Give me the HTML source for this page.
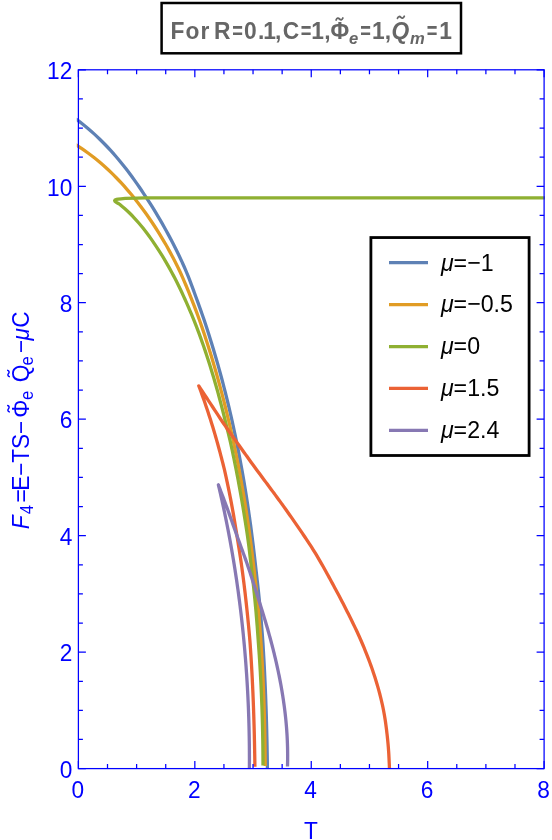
<!DOCTYPE html>
<html><head><meta charset="utf-8"><title>F4 vs T</title>
<style>
html,body{margin:0;padding:0;background:#ffffff;}
body{width:552px;height:840px;overflow:hidden;font-family:"Liberation Sans",sans-serif;}
svg{display:block;will-change:transform;opacity:0.999;font-kerning:none;}
</style></head><body>
<svg width="552" height="840" viewBox="0 0 552 840">
<rect x="0" y="0" width="552" height="840" fill="#ffffff"/>
<defs><clipPath id="cp"><rect x="76.8" y="68.8" width="468.3" height="700.4"/></clipPath></defs>
<g fill="none" stroke-width="3.30" stroke-linejoin="round" stroke-linecap="butt" clip-path="url(#cp)">
<path d="M75.57 118.70C76.62 119.50 79.80 121.84 81.87 123.46C83.93 125.09 85.96 126.75 87.95 128.44C89.95 130.12 91.91 131.85 93.84 133.60C95.77 135.35 97.66 137.14 99.53 138.95C101.40 140.77 103.23 142.61 105.04 144.48C106.84 146.35 108.62 148.24 110.37 150.16C112.12 152.08 113.84 154.03 115.54 156.00C117.24 157.97 118.91 159.96 120.56 161.98C122.21 163.99 123.83 166.03 125.43 168.08C127.03 170.13 128.61 172.21 130.16 174.30C131.72 176.39 133.26 178.50 134.77 180.62C136.29 182.75 137.79 184.89 139.27 187.04C140.75 189.19 142.21 191.36 143.66 193.54C145.10 195.72 146.53 197.91 147.95 200.11C149.36 202.31 150.76 204.52 152.14 206.74C153.53 208.96 154.89 211.20 156.25 213.44C157.60 215.68 158.93 217.93 160.25 220.19C161.57 222.45 162.87 224.72 164.15 227.00C165.43 229.28 166.70 231.57 167.94 233.87C169.19 236.17 170.42 238.48 171.63 240.80C172.84 243.12 174.03 245.44 175.20 247.78C176.37 250.11 177.52 252.46 178.65 254.81C179.78 257.16 180.89 259.53 181.99 261.90C183.08 264.27 184.18 266.64 185.21 269.03C186.23 271.41 187.19 273.81 188.14 276.21C189.10 278.61 190.02 281.02 190.93 283.43C191.85 285.84 192.74 288.26 193.64 290.69C194.53 293.12 195.41 295.55 196.30 297.99C197.18 300.43 198.08 302.88 198.96 305.33C199.84 307.78 200.73 310.23 201.59 312.69C202.45 315.15 203.30 317.62 204.14 320.09C204.97 322.56 205.80 325.03 206.61 327.51C207.42 329.99 208.22 332.47 209.01 334.95C209.80 337.44 210.58 339.93 211.34 342.42C212.11 344.91 212.87 347.41 213.61 349.91C214.36 352.40 215.10 354.90 215.82 357.41C216.55 359.91 217.27 362.41 217.97 364.92C218.68 367.43 219.38 369.94 220.06 372.46C220.75 374.97 221.43 377.49 222.10 380.01C222.76 382.52 223.42 385.05 224.07 387.57C224.72 390.09 225.36 392.62 225.99 395.15C226.62 397.68 227.24 400.21 227.85 402.74C228.46 405.28 229.07 407.81 229.66 410.35C230.25 412.89 230.84 415.43 231.41 417.97C231.99 420.51 232.55 423.06 233.11 425.60C233.67 428.15 234.22 430.70 234.76 433.25C235.30 435.80 235.83 438.35 236.35 440.91C236.87 443.46 237.39 446.02 237.89 448.58C238.40 451.14 238.90 453.70 239.39 456.26C239.87 458.82 240.36 461.39 240.83 463.95C241.30 466.52 241.76 469.09 242.22 471.66C242.68 474.23 243.13 476.80 243.57 479.37C244.01 481.94 244.44 484.52 244.86 487.09C245.29 489.67 245.71 492.25 246.12 494.83C246.52 497.40 246.93 499.98 247.32 502.57C247.72 505.15 248.10 507.73 248.48 510.32C248.86 512.90 249.23 515.49 249.60 518.07C249.96 520.66 250.32 523.25 250.67 525.84C251.02 528.43 251.36 531.02 251.70 533.61C252.04 536.20 252.36 538.80 252.69 541.39C253.01 543.98 253.32 546.58 253.63 549.17C253.94 551.77 254.24 554.37 254.54 556.97C254.84 559.56 255.12 562.16 255.42 564.76C255.71 567.36 256.01 569.96 256.31 572.56C256.61 575.16 256.91 577.77 257.20 580.37C257.49 582.97 257.78 585.58 258.07 588.18C258.35 590.78 258.63 593.39 258.89 595.99C259.16 598.60 259.41 601.20 259.66 603.81C259.91 606.42 260.15 609.02 260.38 611.63C260.62 614.24 260.85 616.85 261.07 619.45C261.30 622.06 261.52 624.67 261.73 627.28C261.94 629.89 262.15 632.50 262.35 635.11C262.54 637.71 262.73 640.32 262.91 642.93C263.08 645.54 263.23 648.15 263.39 650.76C263.54 653.37 263.69 655.98 263.84 658.59C263.98 661.20 264.13 663.81 264.26 666.42C264.40 669.03 264.53 671.64 264.65 674.25C264.78 676.86 264.90 679.47 265.02 682.07C265.14 684.68 265.25 687.29 265.36 689.90C265.46 692.51 265.57 695.12 265.67 697.73C265.77 700.33 265.86 702.94 265.95 705.55C266.04 708.15 266.13 710.76 266.21 713.37C266.30 715.97 266.37 718.58 266.45 721.18C266.52 723.79 266.60 726.39 266.66 729.00C266.73 731.60 266.79 734.20 266.85 736.81C266.91 739.41 266.97 742.01 267.02 744.61C267.08 747.21 267.13 749.81 267.17 752.41C267.22 755.01 267.26 757.61 267.30 760.21C267.34 762.80 267.39 766.70 267.41 768.00" stroke="#5E81B5"/>
<path d="M75.49 144.44C76.55 145.13 79.75 147.17 81.83 148.59C83.92 150.01 85.98 151.47 88.00 152.97C90.03 154.46 92.03 155.99 94.00 157.55C95.97 159.11 97.91 160.70 99.82 162.33C101.74 163.95 103.62 165.61 105.48 167.29C107.34 168.98 109.17 170.69 110.97 172.43C112.78 174.18 114.56 175.95 116.31 177.74C118.06 179.54 119.79 181.36 121.49 183.21C123.19 185.06 124.87 186.93 126.52 188.82C128.18 190.72 129.80 192.63 131.41 194.57C133.01 196.51 134.59 198.47 136.15 200.44C137.71 202.42 139.25 204.42 140.76 206.43C142.27 208.45 143.76 210.48 145.23 212.52C146.70 214.57 148.14 216.64 149.57 218.71C150.99 220.79 152.40 222.88 153.78 224.99C155.16 227.09 156.53 229.21 157.87 231.35C159.21 233.48 160.52 235.63 161.82 237.78C163.12 239.94 164.39 242.11 165.65 244.30C166.90 246.48 168.14 248.68 169.35 250.88C170.56 253.09 171.75 255.31 172.92 257.53C174.09 259.76 175.24 262.00 176.37 264.25C177.49 266.50 178.61 268.76 179.67 271.02C180.74 273.29 181.75 275.57 182.76 277.85C183.76 280.13 184.75 282.43 185.72 284.73C186.69 287.03 187.64 289.34 188.58 291.66C189.52 293.97 190.44 296.30 191.36 298.63C192.28 300.96 193.20 303.30 194.10 305.64C195.00 307.99 195.89 310.34 196.77 312.69C197.64 315.05 198.50 317.41 199.35 319.78C200.19 322.15 201.02 324.52 201.84 326.90C202.66 329.28 203.47 331.66 204.26 334.04C205.06 336.43 205.84 338.82 206.62 341.21C207.39 343.61 208.15 346.00 208.90 348.40C209.66 350.80 210.40 353.21 211.13 355.61C211.86 358.02 212.59 360.43 213.30 362.84C214.02 365.25 214.73 367.66 215.42 370.08C216.12 372.49 216.81 374.91 217.49 377.33C218.17 379.75 218.84 382.18 219.50 384.60C220.16 387.03 220.81 389.46 221.46 391.89C222.10 394.32 222.74 396.75 223.36 399.18C223.99 401.62 224.61 404.06 225.22 406.49C225.83 408.93 226.43 411.38 227.02 413.82C227.61 416.26 228.20 418.71 228.77 421.16C229.35 423.60 229.92 426.06 230.48 428.51C231.03 430.96 231.59 433.41 232.13 435.87C232.67 438.32 233.21 440.78 233.73 443.24C234.26 445.70 234.78 448.16 235.29 450.63C235.80 453.09 236.30 455.56 236.80 458.02C237.29 460.49 237.78 462.96 238.26 465.43C238.74 467.90 239.21 470.37 239.67 472.85C240.14 475.32 240.59 477.80 241.04 480.27C241.49 482.75 241.93 485.23 242.37 487.71C242.80 490.19 243.23 492.67 243.64 495.15C244.06 497.64 244.48 500.12 244.88 502.61C245.28 505.09 245.68 507.58 246.07 510.07C246.46 512.56 246.84 515.05 247.22 517.54C247.59 520.03 247.96 522.52 248.32 525.02C248.69 527.51 249.04 530.00 249.39 532.50C249.74 535.00 250.08 537.49 250.41 539.99C250.74 542.49 251.07 544.99 251.39 547.49C251.71 549.99 252.03 552.49 252.33 554.99C252.64 557.49 252.94 560.00 253.24 562.50C253.54 565.00 253.83 567.51 254.13 570.02C254.42 572.52 254.71 575.03 255.00 577.53C255.29 580.04 255.57 582.55 255.85 585.06C256.13 587.57 256.40 590.08 256.66 592.59C256.92 595.10 257.18 597.61 257.42 600.12C257.67 602.63 257.91 605.14 258.14 607.65C258.37 610.17 258.60 612.68 258.82 615.19C259.04 617.70 259.26 620.22 259.47 622.73C259.68 625.25 259.88 627.76 260.07 630.27C260.27 632.79 260.47 635.30 260.65 637.82C260.83 640.33 261.00 642.85 261.16 645.37C261.33 647.88 261.48 650.40 261.64 652.91C261.79 655.43 261.93 657.94 262.08 660.46C262.22 662.98 262.35 665.49 262.48 668.01C262.62 670.52 262.74 673.04 262.86 675.56C262.98 678.07 263.10 680.59 263.21 683.10C263.32 685.62 263.43 688.14 263.53 690.65C263.63 693.17 263.73 695.68 263.82 698.20C263.91 700.71 264.00 703.23 264.08 705.74C264.16 708.26 264.24 710.77 264.31 713.28C264.38 715.80 264.45 718.31 264.52 720.82C264.58 723.34 264.64 725.85 264.70 728.36C264.75 730.87 264.80 733.39 264.85 735.90C264.89 738.41 264.94 740.92 264.97 743.43C265.01 745.94 265.05 748.45 265.08 750.95C265.11 753.46 265.13 755.97 265.15 758.48C265.17 760.98 265.20 764.74 265.21 766.00" stroke="#E19C24"/>
<path d="M545 197.85L160 197.9L145 197.95C135 198.1 126 198.4 121 198.85C117.5 199.15 114.7 199.4 114.6 200.7C114.5 201.8 116.2 202.2 119.5 204.2L119.52 204.18C120.37 204.90 122.98 207.01 124.65 208.48C126.31 209.96 127.93 211.47 129.51 213.02C131.09 214.57 132.63 216.15 134.14 217.76C135.64 219.38 137.11 221.02 138.55 222.70C139.99 224.37 141.39 226.07 142.77 227.79C144.14 229.51 145.49 231.26 146.82 233.02C148.14 234.78 149.44 236.57 150.72 238.36C152.00 240.16 153.26 241.98 154.49 243.80C155.73 245.63 156.95 247.47 158.15 249.33C159.35 251.18 160.53 253.05 161.69 254.93C162.86 256.81 164.00 258.70 165.12 260.61C166.25 262.51 167.35 264.43 168.44 266.36C169.53 268.29 170.60 270.23 171.66 272.18C172.71 274.13 173.75 276.10 174.77 278.07C175.79 280.04 176.79 282.02 177.78 284.01C178.77 286.00 179.74 288.00 180.70 290.01C181.66 292.02 182.60 294.04 183.52 296.06C184.45 298.09 185.35 300.12 186.26 302.16C187.16 304.20 188.05 306.25 188.94 308.30C189.82 310.35 190.70 312.41 191.56 314.48C192.42 316.54 193.27 318.61 194.10 320.69C194.93 322.77 195.75 324.85 196.56 326.93C197.37 329.02 198.16 331.11 198.94 333.20C199.72 335.30 200.49 337.39 201.24 339.49C202.00 341.59 202.74 343.70 203.47 345.80C204.20 347.91 204.92 350.02 205.63 352.12C206.34 354.23 207.03 356.35 207.72 358.46C208.41 360.57 209.08 362.69 209.75 364.81C210.42 366.92 211.07 369.04 211.72 371.16C212.37 373.29 213.01 375.41 213.64 377.53C214.27 379.66 214.89 381.79 215.50 383.92C216.11 386.05 216.72 388.18 217.31 390.31C217.90 392.44 218.49 394.58 219.07 396.71C219.64 398.85 220.21 400.99 220.77 403.13C221.34 405.27 221.89 407.41 222.44 409.55C222.98 411.70 223.52 413.84 224.06 415.99C224.59 418.14 225.11 420.29 225.64 422.44C226.16 424.59 226.68 426.74 227.21 428.89C227.74 431.05 228.29 433.20 228.81 435.36C229.34 437.51 229.87 439.67 230.37 441.83C230.86 443.99 231.32 446.15 231.79 448.32C232.25 450.48 232.70 452.64 233.15 454.81C233.60 456.98 234.05 459.14 234.49 461.31C234.93 463.48 235.36 465.65 235.79 467.82C236.22 469.99 236.64 472.17 237.06 474.34C237.48 476.51 237.89 478.69 238.30 480.87C238.71 483.04 239.11 485.22 239.51 487.40C239.90 489.58 240.30 491.76 240.68 493.94C241.07 496.12 241.45 498.31 241.83 500.49C242.20 502.68 242.58 504.86 242.94 507.05C243.31 509.23 243.67 511.42 244.03 513.61C244.38 515.80 244.73 517.99 245.08 520.18C245.42 522.37 245.76 524.56 246.10 526.75C246.43 528.95 246.77 531.14 247.09 533.34C247.42 535.53 247.75 537.73 248.05 539.92C248.36 542.12 248.65 544.32 248.92 546.52C249.19 548.71 249.43 550.91 249.69 553.11C249.95 555.31 250.20 557.51 250.46 559.72C250.72 561.92 250.99 564.12 251.25 566.32C251.51 568.53 251.77 570.73 252.03 572.94C252.28 575.14 252.54 577.35 252.78 579.55C253.03 581.76 253.27 583.96 253.51 586.17C253.75 588.38 253.98 590.59 254.21 592.80C254.43 595.00 254.65 597.21 254.87 599.42C255.08 601.63 255.29 603.84 255.49 606.05C255.70 608.26 255.89 610.48 256.09 612.69C256.28 614.90 256.46 617.11 256.65 619.32C256.83 621.54 257.00 623.75 257.18 625.96C257.35 628.18 257.51 630.39 257.68 632.60C257.84 634.82 257.98 637.03 258.14 639.25C258.30 641.46 258.47 643.68 258.63 645.89C258.79 648.11 258.95 650.32 259.10 652.54C259.26 654.75 259.40 656.97 259.55 659.18C259.69 661.40 259.83 663.62 259.96 665.83C260.09 668.05 260.22 670.26 260.35 672.48C260.47 674.70 260.59 676.91 260.71 679.13C260.82 681.35 260.94 683.56 261.04 685.78C261.15 688.00 261.25 690.21 261.35 692.43C261.45 694.65 261.54 696.86 261.63 699.08C261.72 701.29 261.80 703.51 261.88 705.73C261.96 707.94 262.04 710.16 262.11 712.37C262.18 714.59 262.25 716.81 262.31 719.02C262.37 721.24 262.43 723.45 262.49 725.67C262.54 727.88 262.59 730.10 262.63 732.31C262.68 734.53 262.72 736.74 262.76 738.95C262.80 741.17 262.83 743.38 262.86 745.59C262.88 747.81 262.91 750.02 262.93 752.23C262.95 754.44 262.96 756.66 262.98 758.87C262.99 761.08 262.99 764.39 263.00 765.50" stroke="#8FB032"/>
<path d="M389.46 768.50C389.43 767.68 389.34 765.20 389.27 763.55C389.20 761.90 389.12 760.25 389.03 758.60C388.95 756.96 388.87 755.31 388.78 753.67C388.68 752.03 388.57 750.40 388.45 748.76C388.33 747.13 388.19 745.49 388.04 743.86C387.89 742.23 387.73 740.61 387.57 738.98C387.40 737.36 387.22 735.73 387.04 734.11C386.86 732.50 386.67 730.88 386.47 729.26C386.27 727.65 386.06 726.04 385.84 724.43C385.62 722.82 385.38 721.22 385.13 719.61C384.88 718.01 384.62 716.41 384.34 714.81C384.06 713.22 383.77 711.62 383.46 710.03C383.15 708.44 382.83 706.85 382.49 705.27C382.14 703.68 381.79 702.10 381.41 700.52C381.04 698.94 380.65 697.36 380.25 695.79C379.85 694.22 379.43 692.64 379.01 691.08C378.58 689.51 378.14 687.95 377.69 686.38C377.24 684.82 376.78 683.26 376.30 681.71C375.83 680.15 375.34 678.60 374.85 677.05C374.35 675.51 373.84 673.96 373.32 672.42C372.81 670.88 372.28 669.34 371.74 667.80C371.20 666.26 370.65 664.73 370.09 663.20C369.53 661.67 368.95 660.15 368.38 658.63C367.80 657.10 367.21 655.58 366.61 654.07C366.01 652.55 365.40 651.04 364.79 649.53C364.17 648.02 363.54 646.51 362.91 645.01C362.28 643.51 361.64 642.01 360.99 640.51C360.34 639.01 359.68 637.52 359.01 636.02C358.34 634.53 357.66 633.04 356.97 631.56C356.27 630.07 355.57 628.59 354.87 627.11C354.16 625.63 353.44 624.15 352.72 622.67C352.00 621.20 351.27 619.72 350.54 618.25C349.81 616.78 349.07 615.31 348.34 613.84C347.60 612.38 346.86 610.91 346.12 609.45C345.37 607.99 344.62 606.53 343.87 605.07C343.12 603.61 342.37 602.16 341.61 600.70C340.85 599.25 340.09 597.80 339.32 596.35C338.56 594.90 337.79 593.45 337.02 592.01C336.26 590.56 335.49 589.12 334.71 587.68C333.94 586.24 333.16 584.80 332.39 583.36C331.61 581.93 330.83 580.49 330.05 579.06C329.27 577.63 328.49 576.21 327.70 574.78C326.92 573.36 326.14 571.94 325.35 570.52C324.56 569.10 323.77 567.69 322.98 566.28C322.18 564.87 321.38 563.46 320.58 562.06C319.77 560.65 318.95 559.25 318.13 557.86C317.31 556.46 316.48 555.07 315.64 553.68C314.79 552.29 313.94 550.91 313.08 549.53C312.22 548.15 311.34 546.78 310.45 545.41C309.57 544.04 308.67 542.67 307.77 541.31C306.86 539.94 305.95 538.59 305.04 537.23C304.13 535.88 303.20 534.53 302.29 533.18C301.37 531.83 300.45 530.49 299.53 529.15C298.61 527.81 297.69 526.47 296.77 525.13C295.85 523.80 294.93 522.47 294.00 521.14C293.08 519.81 292.16 518.49 291.24 517.16C290.31 515.84 289.39 514.52 288.46 513.20C287.53 511.88 286.60 510.57 285.66 509.25C284.73 507.94 283.79 506.63 282.85 505.32C281.90 504.01 280.96 502.70 280.01 501.39C279.06 500.08 278.10 498.78 277.15 497.47C276.19 496.17 275.23 494.87 274.27 493.57C273.31 492.27 272.34 490.97 271.38 489.67C270.42 488.37 269.45 487.07 268.49 485.77C267.52 484.47 266.56 483.18 265.59 481.88C264.62 480.58 263.66 479.29 262.69 477.99C261.73 476.69 260.76 475.40 259.80 474.10C258.84 472.81 257.88 471.51 256.92 470.21C255.96 468.92 255.01 467.62 254.06 466.32C253.12 465.03 252.18 463.73 251.24 462.43C250.30 461.13 249.37 459.83 248.44 458.53C247.51 457.23 246.58 455.93 245.65 454.63C244.72 453.32 243.79 452.02 242.86 450.71C241.92 449.41 240.99 448.10 240.05 446.79C239.11 445.48 238.16 444.17 237.22 442.86C236.28 441.55 235.33 440.23 234.39 438.91C233.45 437.60 232.51 436.28 231.57 434.96C230.64 433.64 229.70 432.31 228.78 430.99C227.85 429.66 226.92 428.33 226.00 427.00C225.08 425.66 224.16 424.33 223.26 422.99C222.35 421.65 221.45 420.31 220.56 418.97C219.66 417.62 218.77 416.27 217.88 414.92C216.99 413.57 216.10 412.21 215.21 410.85C214.31 409.49 213.41 408.13 212.51 406.76C211.60 405.39 210.69 404.02 209.78 402.65C208.87 401.27 207.95 399.89 207.05 398.50C206.14 397.12 205.24 395.73 204.33 394.33C203.42 392.94 202.50 391.54 201.57 390.13C200.65 388.73 199.26 386.61 198.79 385.91L198.82 385.89C199.07 386.57 199.83 388.61 200.34 389.98C200.84 391.34 201.33 392.71 201.83 394.07C202.32 395.44 202.81 396.81 203.29 398.18C203.77 399.55 204.25 400.92 204.73 402.29C205.20 403.66 205.67 405.03 206.13 406.41C206.60 407.78 207.06 409.15 207.52 410.53C207.97 411.91 208.43 413.28 208.87 414.66C209.32 416.04 209.77 417.42 210.21 418.80C210.65 420.18 211.08 421.56 211.51 422.95C211.94 424.33 212.37 425.71 212.79 427.10C213.21 428.48 213.63 429.87 214.05 431.26C214.46 432.64 214.87 434.03 215.28 435.42C215.68 436.81 216.08 438.20 216.48 439.59C216.88 440.99 217.27 442.38 217.66 443.77C218.05 445.17 218.44 446.56 218.82 447.96C219.20 449.35 219.58 450.75 219.95 452.15C220.32 453.54 220.69 454.94 221.06 456.34C221.42 457.74 221.79 459.14 222.14 460.54C222.50 461.94 222.86 463.35 223.21 464.75C223.56 466.15 223.91 467.56 224.25 468.96C224.58 470.37 224.90 471.78 225.22 473.18C225.53 474.59 225.84 476.00 226.15 477.41C226.46 478.81 226.76 480.22 227.06 481.63C227.36 483.05 227.66 484.46 227.96 485.87C228.25 487.28 228.54 488.69 228.83 490.11C229.12 491.52 229.40 492.94 229.68 494.35C229.96 495.77 230.24 497.18 230.52 498.60C230.79 500.02 231.07 501.44 231.33 502.85C231.60 504.27 231.86 505.69 232.12 507.11C232.38 508.53 232.64 509.95 232.89 511.38C233.14 512.80 233.39 514.22 233.64 515.64C233.88 517.07 234.13 518.49 234.37 519.91C234.61 521.34 234.85 522.76 235.08 524.19C235.32 525.61 235.55 527.04 235.79 528.47C236.02 529.89 236.25 531.32 236.48 532.75C236.71 534.18 236.94 535.61 237.17 537.04C237.40 538.47 237.63 539.90 237.85 541.33C238.08 542.76 238.31 544.19 238.54 545.62C238.77 547.05 239.00 548.49 239.23 549.92C239.46 551.35 239.69 552.79 239.91 554.22C240.13 555.65 240.35 557.09 240.56 558.52C240.78 559.96 240.99 561.40 241.19 562.83C241.40 564.27 241.60 565.70 241.80 567.14C242.00 568.58 242.20 570.02 242.39 571.46C242.58 572.89 242.77 574.33 242.96 575.77C243.15 577.21 243.34 578.65 243.52 580.09C243.70 581.53 243.88 582.97 244.06 584.41C244.24 585.85 244.41 587.29 244.58 588.73C244.76 590.18 244.93 591.62 245.10 593.06C245.26 594.50 245.43 595.94 245.59 597.39C245.76 598.83 245.92 600.27 246.08 601.72C246.24 603.16 246.40 604.61 246.55 606.05C246.71 607.49 246.86 608.94 247.01 610.38C247.17 611.83 247.32 613.27 247.46 614.72C247.61 616.16 247.76 617.61 247.90 619.06C248.04 620.50 248.19 621.95 248.33 623.39C248.47 624.84 248.60 626.29 248.74 627.74C248.88 629.18 249.01 630.63 249.14 632.08C249.27 633.52 249.41 634.97 249.53 636.42C249.66 637.87 249.79 639.32 249.90 640.76C250.02 642.21 250.11 643.66 250.22 645.11C250.32 646.56 250.42 648.00 250.52 649.45C250.62 650.90 250.71 652.35 250.81 653.80C250.90 655.25 251.00 656.70 251.09 658.15C251.18 659.60 251.27 661.04 251.35 662.49C251.44 663.94 251.53 665.39 251.61 666.84C251.69 668.29 251.77 669.74 251.85 671.19C251.93 672.64 252.01 674.09 252.09 675.54C252.16 676.99 252.24 678.44 252.31 679.89C252.38 681.34 252.45 682.79 252.52 684.24C252.59 685.68 252.66 687.13 252.72 688.58C252.79 690.03 252.85 691.48 252.92 692.93C252.98 694.38 253.04 695.83 253.10 697.28C253.16 698.73 253.22 700.18 253.27 701.63C253.33 703.07 253.38 704.52 253.44 705.97C253.49 707.42 253.54 708.87 253.59 710.32C253.64 711.77 253.69 713.21 253.74 714.66C253.78 716.11 253.83 717.56 253.87 719.01C253.92 720.45 253.96 721.90 254.00 723.35C254.05 724.80 254.09 726.24 254.13 727.69C254.16 729.14 254.20 730.59 254.24 732.03C254.28 733.48 254.31 734.93 254.35 736.37C254.38 737.82 254.41 739.26 254.45 740.71C254.48 742.15 254.51 743.60 254.54 745.04C254.57 746.49 254.60 747.93 254.62 749.38C254.65 750.82 254.68 752.27 254.70 753.71C254.73 755.16 254.75 756.60 254.78 758.04C254.80 759.48 254.82 760.93 254.84 762.37C254.86 763.81 254.89 765.98 254.90 766.70" stroke="#EB6235"/>
<path d="M287.49 766.50C287.51 765.95 287.55 764.29 287.58 763.18C287.60 762.07 287.62 760.96 287.63 759.86C287.64 758.75 287.65 757.65 287.65 756.54C287.65 755.44 287.65 754.33 287.64 753.23C287.63 752.13 287.62 751.03 287.60 749.93C287.58 748.82 287.56 747.72 287.53 746.62C287.50 745.53 287.46 744.43 287.42 743.33C287.38 742.23 287.34 741.13 287.29 740.04C287.24 738.94 287.19 737.85 287.13 736.75C287.07 735.66 287.00 734.56 286.94 733.47C286.87 732.38 286.79 731.29 286.72 730.20C286.64 729.10 286.55 728.01 286.47 726.92C286.38 725.83 286.29 724.75 286.19 723.66C286.09 722.57 285.99 721.48 285.89 720.40C285.78 719.31 285.67 718.22 285.56 717.14C285.44 716.05 285.32 714.97 285.20 713.88C285.07 712.80 284.95 711.72 284.81 710.64C284.68 709.55 284.55 708.47 284.41 707.39C284.27 706.31 284.12 705.23 283.97 704.15C283.82 703.07 283.67 701.99 283.51 700.92C283.36 699.84 283.20 698.76 283.03 697.69C282.87 696.61 282.70 695.53 282.52 694.46C282.35 693.38 282.18 692.31 282.00 691.24C281.81 690.16 281.63 689.09 281.44 688.02C281.25 686.94 281.06 685.87 280.87 684.80C280.67 683.73 280.47 682.66 280.27 681.59C280.07 680.52 279.86 679.45 279.65 678.38C279.44 677.32 279.23 676.25 279.01 675.18C278.80 674.11 278.58 673.05 278.35 671.98C278.13 670.92 277.90 669.85 277.67 668.79C277.44 667.72 277.21 666.66 276.97 665.59C276.74 664.53 276.50 663.47 276.25 662.41C276.01 661.34 275.77 660.28 275.52 659.22C275.27 658.16 275.02 657.10 274.76 656.04C274.51 654.98 274.25 653.92 273.99 652.86C273.73 651.80 273.46 650.75 273.20 649.69C272.93 648.63 272.66 647.58 272.39 646.52C272.11 645.46 271.84 644.41 271.56 643.35C271.28 642.30 271.00 641.24 270.72 640.19C270.44 639.13 270.15 638.08 269.86 637.03C269.58 635.97 269.28 634.92 268.99 633.87C268.70 632.82 268.40 631.77 268.10 630.72C267.81 629.66 267.51 628.61 267.20 627.56C266.90 626.51 266.60 625.46 266.29 624.42C265.98 623.37 265.67 622.32 265.36 621.27C265.05 620.22 264.73 619.18 264.42 618.13C264.10 617.08 263.78 616.03 263.46 614.99C263.14 613.94 262.82 612.90 262.50 611.85C262.17 610.81 261.85 609.76 261.52 608.72C261.19 607.67 260.86 606.63 260.53 605.59C260.20 604.54 259.86 603.50 259.53 602.46C259.20 601.42 258.86 600.37 258.54 599.33C258.21 598.29 257.91 597.25 257.59 596.21C257.27 595.17 256.95 594.13 256.62 593.09C256.30 592.05 255.98 591.01 255.65 589.97C255.32 588.93 254.99 587.89 254.66 586.85C254.33 585.82 254.00 584.78 253.67 583.74C253.34 582.70 253.00 581.67 252.66 580.63C252.33 579.59 251.99 578.56 251.65 577.52C251.31 576.48 250.98 575.45 250.64 574.41C250.30 573.38 249.96 572.34 249.62 571.31C249.28 570.27 248.93 569.24 248.59 568.20C248.24 567.17 247.89 566.13 247.54 565.10C247.19 564.07 246.83 563.03 246.47 562.00C246.11 560.97 245.75 559.93 245.38 558.90C245.01 557.87 244.64 556.84 244.26 555.80C243.89 554.77 243.52 553.74 243.14 552.71C242.76 551.68 242.39 550.64 242.01 549.61C241.63 548.58 241.25 547.55 240.88 546.52C240.50 545.49 240.12 544.46 239.75 543.43C239.37 542.40 239.00 541.37 238.63 540.34C238.25 539.31 237.89 538.28 237.52 537.25C237.15 536.22 236.78 535.19 236.41 534.16C236.04 533.13 235.68 532.10 235.31 531.07C234.94 530.04 234.58 529.01 234.21 527.98C233.85 526.95 233.48 525.93 233.12 524.90C232.75 523.87 232.39 522.84 232.02 521.81C231.66 520.78 231.29 519.76 230.93 518.73C230.57 517.70 230.20 516.67 229.84 515.64C229.47 514.61 229.11 513.59 228.75 512.56C228.38 511.53 228.02 510.50 227.65 509.47C227.28 508.45 226.90 507.42 226.52 506.39C226.14 505.36 225.75 504.34 225.36 503.31C224.97 502.28 224.59 501.25 224.20 500.23C223.81 499.20 223.43 498.17 223.04 497.14C222.65 496.11 222.26 495.09 221.87 494.06C221.48 493.03 221.09 492.00 220.69 490.98C220.30 489.95 219.90 488.92 219.51 487.89C219.13 486.86 218.57 485.32 218.38 484.81L218.39 484.80C218.51 485.32 218.88 486.89 219.12 487.93C219.37 488.98 219.61 490.02 219.85 491.06C220.09 492.11 220.33 493.15 220.57 494.20C220.80 495.24 221.04 496.29 221.27 497.33C221.51 498.38 221.74 499.42 221.97 500.47C222.20 501.52 222.43 502.56 222.66 503.61C222.88 504.65 223.11 505.70 223.34 506.75C223.56 507.80 223.78 508.84 224.01 509.89C224.23 510.94 224.45 511.98 224.67 513.03C224.88 514.08 225.10 515.13 225.32 516.18C225.53 517.23 225.75 518.27 225.96 519.32C226.17 520.37 226.38 521.42 226.59 522.47C226.80 523.52 227.01 524.57 227.22 525.62C227.42 526.67 227.63 527.72 227.83 528.77C228.04 529.82 228.24 530.87 228.44 531.92C228.64 532.97 228.84 534.02 229.04 535.07C229.23 536.13 229.43 537.18 229.63 538.23C229.82 539.28 230.01 540.33 230.20 541.38C230.40 542.44 230.59 543.49 230.77 544.54C230.96 545.59 231.15 546.65 231.34 547.70C231.52 548.75 231.71 549.81 231.89 550.86C232.07 551.91 232.25 552.97 232.43 554.02C232.61 555.08 232.79 556.13 232.97 557.18C233.14 558.24 233.32 559.29 233.49 560.35C233.67 561.40 233.84 562.46 234.01 563.51C234.18 564.57 234.35 565.62 234.52 566.68C234.69 567.73 234.85 568.79 235.02 569.85C235.18 570.90 235.35 571.96 235.51 573.01C235.67 574.07 235.83 575.13 235.99 576.18C236.15 577.24 236.31 578.30 236.46 579.36C236.62 580.41 236.77 581.47 236.93 582.53C237.08 583.59 237.23 584.64 237.38 585.70C237.53 586.76 237.68 587.82 237.83 588.88C237.98 589.93 238.12 590.99 238.27 592.05C238.41 593.11 238.55 594.17 238.70 595.23C238.84 596.29 238.98 597.35 239.12 598.41C239.26 599.47 239.39 600.53 239.53 601.58C239.66 602.64 239.80 603.70 239.93 604.76C240.06 605.82 240.20 606.89 240.33 607.95C240.46 609.01 240.59 610.07 240.71 611.13C240.84 612.19 240.97 613.25 241.09 614.31C241.21 615.37 241.34 616.43 241.46 617.49C241.58 618.56 241.70 619.62 241.82 620.68C241.94 621.74 242.05 622.80 242.17 623.87C242.29 624.93 242.40 625.99 242.51 627.05C242.63 628.12 242.74 629.18 242.85 630.24C242.96 631.30 243.07 632.37 243.17 633.43C243.28 634.49 243.39 635.56 243.49 636.62C243.60 637.68 243.70 638.75 243.80 639.81C243.90 640.87 244.00 641.94 244.10 643.00C244.20 644.07 244.30 645.13 244.39 646.19C244.49 647.26 244.58 648.32 244.68 649.39C244.77 650.45 244.86 651.52 244.95 652.58C245.04 653.65 245.13 654.71 245.22 655.78C245.31 656.84 245.39 657.91 245.48 658.97C245.56 660.04 245.65 661.10 245.73 662.17C245.81 663.23 245.89 664.30 245.97 665.37C246.05 666.43 246.13 667.50 246.20 668.56C246.28 669.63 246.35 670.70 246.43 671.76C246.50 672.83 246.57 673.90 246.65 674.96C246.72 676.03 246.79 677.10 246.85 678.16C246.92 679.23 246.99 680.30 247.05 681.36C247.12 682.43 247.18 683.50 247.25 684.57C247.31 685.63 247.37 686.70 247.43 687.77C247.49 688.84 247.55 689.90 247.61 690.97C247.66 692.04 247.72 693.11 247.77 694.17C247.83 695.24 247.88 696.31 247.93 697.38C247.98 698.45 248.03 699.52 248.08 700.58C248.13 701.65 248.18 702.72 248.23 703.79C248.27 704.86 248.32 705.93 248.36 707.00C248.40 708.06 248.45 709.13 248.49 710.20C248.53 711.27 248.57 712.34 248.61 713.41C248.64 714.48 248.68 715.55 248.72 716.62C248.75 717.69 248.79 718.76 248.82 719.82C248.85 720.89 248.88 721.96 248.91 723.03C248.94 724.10 248.97 725.17 249.00 726.24C249.03 727.31 249.05 728.38 249.08 729.45C249.10 730.52 249.12 731.59 249.15 732.66C249.17 733.73 249.19 734.80 249.21 735.87C249.23 736.94 249.25 738.01 249.26 739.08C249.28 740.15 249.29 741.23 249.31 742.30C249.32 743.37 249.33 744.44 249.35 745.51C249.36 746.58 249.37 747.65 249.38 748.72C249.39 749.79 249.39 750.86 249.40 751.93C249.40 753.00 249.41 754.07 249.41 755.15C249.42 756.22 249.42 757.29 249.42 758.36C249.42 759.43 249.42 760.50 249.42 761.57C249.42 762.64 249.41 763.72 249.41 764.79C249.40 765.86 249.39 767.47 249.39 768.00" stroke="#8778B3"/>
</g>
<g stroke="#0000ff" stroke-width="1.25" fill="none">
<rect x="78.4" y="69.8" width="465.7" height="698.8"/>
<path d="M78.40 768.60v-7.50M78.40 69.80v7.50M107.51 768.60v-4.50M107.51 69.80v4.50M136.61 768.60v-4.50M136.61 69.80v4.50M165.72 768.60v-4.50M165.72 69.80v4.50M194.83 768.60v-7.50M194.83 69.80v7.50M223.93 768.60v-4.50M223.93 69.80v4.50M253.04 768.60v-4.50M253.04 69.80v4.50M282.14 768.60v-4.50M282.14 69.80v4.50M311.25 768.60v-7.50M311.25 69.80v7.50M340.36 768.60v-4.50M340.36 69.80v4.50M369.46 768.60v-4.50M369.46 69.80v4.50M398.57 768.60v-4.50M398.57 69.80v4.50M427.68 768.60v-7.50M427.68 69.80v7.50M456.78 768.60v-4.50M456.78 69.80v4.50M485.89 768.60v-4.50M485.89 69.80v4.50M514.99 768.60v-4.50M514.99 69.80v4.50M544.10 768.60v-7.50M544.10 69.80v7.50M78.40 768.60h7.50M544.10 768.60h-7.50M78.40 739.48h4.50M544.10 739.48h-4.50M78.40 710.37h4.50M544.10 710.37h-4.50M78.40 681.25h4.50M544.10 681.25h-4.50M78.40 652.13h7.50M544.10 652.13h-7.50M78.40 623.02h4.50M544.10 623.02h-4.50M78.40 593.90h4.50M544.10 593.90h-4.50M78.40 564.78h4.50M544.10 564.78h-4.50M78.40 535.67h7.50M544.10 535.67h-7.50M78.40 506.55h4.50M544.10 506.55h-4.50M78.40 477.43h4.50M544.10 477.43h-4.50M78.40 448.32h4.50M544.10 448.32h-4.50M78.40 419.20h7.50M544.10 419.20h-7.50M78.40 390.08h4.50M544.10 390.08h-4.50M78.40 360.97h4.50M544.10 360.97h-4.50M78.40 331.85h4.50M544.10 331.85h-4.50M78.40 302.73h7.50M544.10 302.73h-7.50M78.40 273.62h4.50M544.10 273.62h-4.50M78.40 244.50h4.50M544.10 244.50h-4.50M78.40 215.38h4.50M544.10 215.38h-4.50M78.40 186.27h7.50M544.10 186.27h-7.50M78.40 157.15h4.50M544.10 157.15h-4.50M78.40 128.03h4.50M544.10 128.03h-4.50M78.40 98.92h4.50M544.10 98.92h-4.50M78.40 69.80h7.50M544.10 69.80h-7.50"/>
</g>
<g font-family="'Liberation Sans', sans-serif" fill="#0000ff">
<text transform="translate(77.80 798.40) scale(0.9500 1)" font-size="23.90" text-anchor="middle">0</text>
<text transform="translate(194.23 798.40) scale(0.9500 1)" font-size="23.90" text-anchor="middle">2</text>
<text transform="translate(310.65 798.40) scale(0.9500 1)" font-size="23.90" text-anchor="middle">4</text>
<text transform="translate(427.08 798.40) scale(0.9500 1)" font-size="23.90" text-anchor="middle">6</text>
<text transform="translate(543.50 798.40) scale(0.9500 1)" font-size="23.90" text-anchor="middle">8</text>
<text transform="translate(72.30 777.85) scale(0.9500 1)" font-size="23.90" text-anchor="end">0</text>
<text transform="translate(72.30 661.38) scale(0.9500 1)" font-size="23.90" text-anchor="end">2</text>
<text transform="translate(72.30 544.92) scale(0.9500 1)" font-size="23.90" text-anchor="end">4</text>
<text transform="translate(72.30 428.45) scale(0.9500 1)" font-size="23.90" text-anchor="end">6</text>
<text transform="translate(72.30 311.98) scale(0.9500 1)" font-size="23.90" text-anchor="end">8</text>
<text transform="translate(72.30 195.52) scale(0.9500 1)" font-size="23.90" text-anchor="end">10</text>
<text transform="translate(72.30 79.05) scale(0.9500 1)" font-size="23.90" text-anchor="end">12</text>
<text transform="translate(311.00 838.80) scale(0.9500 1)" font-size="23.90" text-anchor="middle">T</text>
<g transform="translate(29.2 528.5) rotate(-90)">
<text transform="translate(-0.70 0.00) scale(0.9500 1)" font-size="23.90" text-anchor="start" font-style="italic">F</text>
<text transform="translate(14.20 4.20) scale(0.9500 1)" font-size="17.60" text-anchor="start">4</text>
<text transform="translate(26.10 0.00) scale(0.9500 1)" font-size="23.90" text-anchor="start">=</text>
<text transform="translate(37.70 0.00) scale(0.9500 1)" font-size="23.90" text-anchor="start" letter-spacing="-0.15">E−TS−</text>
<text transform="translate(110.80 0.00) scale(0.9500 1)" font-size="23.90" text-anchor="start">Φ</text>
<text transform="translate(128.60 4.20) scale(0.9500 1)" font-size="17.60" text-anchor="start">e</text>
<text transform="translate(146.20 0.00) scale(0.9500 1)" font-size="23.90" text-anchor="start">Q</text>
<text transform="translate(163.00 4.20) scale(0.9500 1)" font-size="17.60" text-anchor="start">e</text>
<text transform="translate(175.50 0.00) scale(0.9500 1)" font-size="23.90" text-anchor="start">−</text>
<text transform="translate(188.00 0.00) scale(0.9500 1)" font-size="23.90" text-anchor="start" font-style="italic">μ</text>
<text transform="translate(200.80 0.00) scale(0.9500 1)" font-size="23.90" text-anchor="start">C</text>
<path d="M116.60 -19.90c0.77 -1.76 2.11 -1.76 3.20 -0.80s2.43 0.96 3.20 -0.80" fill="none" stroke="#0000ff" stroke-width="1.40" stroke-linecap="round"/>
<path d="M151.80 -19.90c0.77 -1.76 2.11 -1.76 3.20 -0.80s2.43 0.96 3.20 -0.80" fill="none" stroke="#0000ff" stroke-width="1.40" stroke-linecap="round"/>
</g>
</g>
<rect x="161.6" y="3.0" width="299.4" height="50.3" fill="#ffffff" stroke="#000000" stroke-width="2.5"/>
<g font-family="'Liberation Sans', sans-serif" font-weight="bold" fill="#666666">
<text transform="translate(170.50 39.20) scale(0.9661 1)" font-size="23.60" text-anchor="start">F</text>
<text transform="translate(185.50 39.20) scale(0.9661 1)" font-size="23.60" text-anchor="start">o</text>
<text transform="translate(200.60 39.20) scale(0.9661 1)" font-size="23.60" text-anchor="start">r</text>
<text transform="translate(213.90 39.20) scale(0.9661 1)" font-size="23.60" text-anchor="start">R</text>
<text transform="translate(237.65 39.20) scale(0.7729 1)" font-size="23.60" text-anchor="middle">=</text>
<text transform="translate(243.90 39.20) scale(0.9661 1)" font-size="23.60" text-anchor="start">0</text>
<text transform="translate(258.00 39.20) scale(0.9661 1)" font-size="23.60" text-anchor="start">.</text>
<text transform="translate(263.20 39.20) scale(0.9661 1)" font-size="23.60" text-anchor="start">1</text>
<text transform="translate(275.10 39.20) scale(0.9661 1)" font-size="23.60" text-anchor="start">,</text>
<text transform="translate(282.80 39.20) scale(0.9661 1)" font-size="23.60" text-anchor="start">C</text>
<text transform="translate(306.00 39.20) scale(0.7729 1)" font-size="23.60" text-anchor="middle">=</text>
<text transform="translate(311.20 39.20) scale(0.9661 1)" font-size="23.60" text-anchor="start">1</text>
<text transform="translate(324.30 39.20) scale(0.9661 1)" font-size="23.60" text-anchor="start">,</text>
<text transform="translate(330.40 39.20) scale(0.9661 1)" font-size="23.60" text-anchor="start">Φ</text>
<text transform="translate(348.90 43.50) scale(0.9661 1)" font-size="17.20" text-anchor="start" font-style="italic">e</text>
<text transform="translate(365.50 39.20) scale(0.7729 1)" font-size="23.60" text-anchor="middle">=</text>
<text transform="translate(372.00 39.20) scale(0.9661 1)" font-size="23.60" text-anchor="start">1,</text>
<text transform="translate(391.60 39.20) scale(0.9661 1)" font-size="23.60" text-anchor="start" font-style="italic">Q</text>
<text transform="translate(410.00 43.50) scale(0.9661 1)" font-size="17.20" text-anchor="start" font-style="italic">m</text>
<text transform="translate(432.00 39.20) scale(0.7729 1)" font-size="23.60" text-anchor="middle">=</text>
<text transform="translate(439.20 39.20) scale(0.9661 1)" font-size="23.60" text-anchor="start">1</text>
<path d="M336.10 20.00c0.82 -2.20 2.24 -2.20 3.40 -1.00s2.58 1.20 3.40 -1.00" fill="none" stroke="#666666" stroke-width="1.80" stroke-linecap="round"/>
<path d="M397.50 18.30c0.82 -2.20 2.24 -2.20 3.40 -1.00s2.58 1.20 3.40 -1.00" fill="none" stroke="#666666" stroke-width="1.80" stroke-linecap="round"/>
</g>
<rect x="370.9" y="237.55" width="158.2" height="217.95" fill="#ffffff" stroke="#000000" stroke-width="2.8"/>
<g font-family="'Liberation Sans', sans-serif" fill="#000000">
<path d="M389 262.70H428" stroke="#5E81B5" stroke-width="3.20" fill="none"/>
<text transform="translate(440.90 270.55) scale(0.9587 1)" font-size="24.20" text-anchor="start"><tspan font-style="italic">μ</tspan>=−1</text>
<path d="M389 304.60H428" stroke="#E19C24" stroke-width="3.20" fill="none"/>
<text transform="translate(440.90 312.45) scale(0.9587 1)" font-size="24.20" text-anchor="start"><tspan font-style="italic">μ</tspan>=−0.5</text>
<path d="M389 346.55H428" stroke="#8FB032" stroke-width="3.20" fill="none"/>
<text transform="translate(440.90 354.40) scale(0.9587 1)" font-size="24.20" text-anchor="start"><tspan font-style="italic">μ</tspan>=0</text>
<path d="M389 388.45H428" stroke="#EB6235" stroke-width="3.20" fill="none"/>
<text transform="translate(440.90 396.30) scale(0.9587 1)" font-size="24.20" text-anchor="start"><tspan font-style="italic">μ</tspan>=1.5</text>
<path d="M389 430.30H428" stroke="#8778B3" stroke-width="3.20" fill="none"/>
<text transform="translate(440.90 438.15) scale(0.9587 1)" font-size="24.20" text-anchor="start"><tspan font-style="italic">μ</tspan>=2.4</text>
</g>
</svg>
</body></html>
